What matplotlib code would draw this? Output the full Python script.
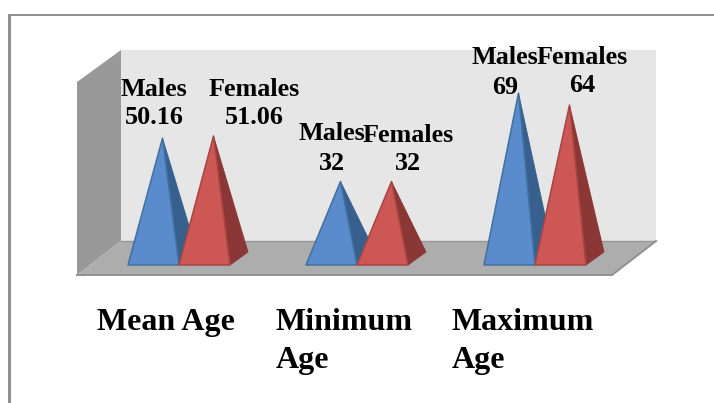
import matplotlib
matplotlib.use("Agg")
import matplotlib.pyplot as plt
from matplotlib.patches import Polygon

categories = ["Mean Age", "Minimum\nAge", "Maximum\nAge"]
males = [50.16, 32, 69]
females = [51.06, 32, 64]
series_names = ["Males", "Females"]

W, H = 714, 403
fig = plt.figure(figsize=(W / 100, H / 100), dpi=100)
fig.patch.set_facecolor("white")


def pixel_axes(z):
    a = fig.add_axes([0, 0, 1, 1], zorder=z)
    a.set_xlim(0, W)
    a.set_ylim(H, 0)
    a.axis("off")
    return a


bg = pixel_axes(0)
top = pixel_axes(6)

# Frame
bg.plot([9, 9], [H, 15], color="#8f8f8f", lw=2.2, solid_capstyle="butt", zorder=1)
bg.plot([8, W], [15, 15], color="#8f8f8f", lw=1.4, solid_capstyle="butt", zorder=1)

# Walls and floor
bg.add_patch(Polygon([(121, 50), (656, 50), (656, 241), (121, 241)], fc="#e6e6e6", ec="none", zorder=2))
bg.add_patch(Polygon([(121, 50), (121, 241), (77, 275), (77, 82)], fc="#999999", ec="none", zorder=2))
bg.add_patch(Polygon([(121, 241), (656, 241), (612, 275), (77, 275)], fc="#adadad", ec="none", zorder=2))
bg.plot([121, 656], [241, 241], color="#969696", lw=1, zorder=3)
bg.plot([77, 612, 656], [275, 275, 241], color="#909090", lw=1.4, zorder=3)

# Data axes: x in category index, y in value, aligned to the chart's pixels
GROUP_PX, X0_PX = 178.0, 179.0
PX_PER_UNIT, Y0_PX = 2.39, 258.0
ax = fig.add_axes([0, 0, 1, 1], zorder=1)
ax.set_xlim((0 - X0_PX) / GROUP_PX, (W - X0_PX) / GROUP_PX)
ax.set_ylim((Y0_PX - H) / PX_PER_UNIT, Y0_PX / PX_PER_UNIT)
ax.axis("off")

BAR = 51 / GROUP_PX
DX = 18 / GROUP_PX
DY_FRONT = 7 / PX_PER_UNIT
DY_BACK = 6 / PX_PER_UNIT


def pyramid(x_left, value, front, side, edge, z):
    apex = (x_left + BAR / 2 + DX / 2, value)
    fl = (x_left, -DY_FRONT)
    fr = (x_left + BAR, -DY_FRONT)
    br = (x_left + BAR + DX, DY_BACK)
    ax.add_patch(Polygon([apex, fr, br], fc=side, ec=side, lw=0.6, zorder=z))
    ax.add_patch(Polygon([apex, fl, fr], fc=front, ec=edge, lw=1.1, joinstyle="round", zorder=z + 0.1))


for i, (m, f) in enumerate(zip(males, females)):
    pyramid(i - BAR, m, "#5a8bcd", "#37608f", "#41719f", 10 + i * 3)
    pyramid(i, f, "#cd5755", "#8a3735", "#a84442", 11 + i * 3)

# Data labels
label_font = dict(family="Liberation Serif", weight="bold", size=18.8, color="black",
                  ha="center", va="center")
pos_m = [(154, 90, 118), (332, 133, 164), (505, 58, 88)]
pos_f = [(254, 90, 118), (408, 135, 164), (582, 57, 86)]

for (x, y1, y2), v in zip(pos_m, males):
    top.text(x, y1, series_names[0], **label_font)
    top.text(x, y2, f"{v:g}", **label_font)
for (x, y1, y2), v in zip(pos_f, females):
    top.text(x, y1, series_names[1], **label_font)
    top.text(x, y2, f"{v:g}", **label_font)

# Category labels
cat_x = [97, 276, 452]
for x, c in zip(cat_x, categories):
    top.text(x, 308, c, family="Liberation Serif", weight="bold", size=23, color="black",
             ha="left", va="top", linespacing=1.42)

fig.savefig("out.png", dpi=100)
